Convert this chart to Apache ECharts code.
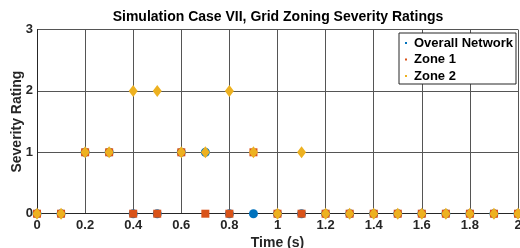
<!DOCTYPE html>
<html>
<head>
<meta charset="utf-8">
<script src="https://cdn.jsdelivr.net/npm/echarts@6/dist/echarts.min.js"></script>
<style>
html,body{margin:0;padding:0;background:#fff;}
#chart{width:520px;height:248px;}
</style>
</head>
<body>
<div id="chart"></div>
<script>
const times = [0, 0.1, 0.2, 0.3, 0.4, 0.5, 0.6, 0.7, 0.8, 0.9, 1.0, 1.1, 1.2, 1.3, 1.4, 1.5, 1.6, 1.7, 1.8, 1.9, 2.0];
const overallNetwork = [0, 0, 1, 1, 0, 0, 1, 1, 0, 0, 0, 0, 0, 0, 0, 0, 0, 0, 0, 0, 0];
const zone1 = [0, 0, 1, 1, 0, 0, 1, 0, 0, 1, 0, 0, 0, 0, 0, 0, 0, 0, 0, 0, 0];
const zone2 = [0, 0, 1, 1, 2, 2, 1, 1, 2, 1, 0, 1, 0, 0, 0, 0, 0, 0, 0, 0, 0];
const seriesNames = ['Overall Network', 'Zone 1', 'Zone 2'];
const yTicks = [0, 1, 2, 3];

const pair = (vals) => times.map((t, i) => [t, vals[i]]);
const FONT = 'Liberation Sans, Arial, sans-serif';

const chart = echarts.init(document.getElementById('chart'), null, {renderer: 'canvas'});
chart.setOption({
  animation: false,
  backgroundColor: '#fff',
  title: {
    text: 'Simulation Case VII, Grid Zoning Severity Ratings',
    left: 278,
    textAlign: 'center',
    top: 10,
    padding: 0,
    textStyle: {fontFamily: FONT, fontSize: 14, fontWeight: 'bold', color: '#000'}
  },
  legend: {
    orient: 'vertical',
    left: 399,
    top: 33,
    padding: [3, 3, 1, 6],
    itemGap: 2.5,
    itemWidth: 2,
    itemHeight: 2,
    icon: 'rect',
    backgroundColor: '#fff',
    borderColor: '#262626',
    borderWidth: 1,
    borderRadius: 0,
    data: seriesNames,
    textStyle: {fontFamily: FONT, fontSize: 13, fontWeight: 'bold', color: '#000', lineHeight: 14, padding: [0, 0, 0, 2]}
  },
  grid: {left: 37, right: 2, top: 29.5, bottom: 34.3, containLabel: false, outerBoundsMode: 'none'},
  xAxis: {
    type: 'value',
    min: 0, max: 2, interval: 0.2,
    name: 'Time (s)',
    nameLocation: 'middle',
    nameGap: 22,
    nameMoveOverlap: false,
    nameTextStyle: {fontFamily: FONT, fontSize: 14, fontWeight: 'bold', color: '#262626'},
    axisLine: {show: true, lineStyle: {color: '#262626', width: 1}},
    axisTick: {show: false},
    axisLabel: {fontFamily: FONT, fontSize: 13, fontWeight: 'bold', color: '#262626', margin: 5, showMaxLabel: true, showMinLabel: true, hideOverlap: false},
    splitLine: {show: true, lineStyle: {color: '#555', width: 1}}
  },
  yAxis: {
    type: 'value',
    min: yTicks[0], max: yTicks[yTicks.length - 1], interval: 1,
    name: 'Severity Rating',
    nameLocation: 'middle',
    nameGap: 13,
    nameMoveOverlap: false,
    nameTextStyle: {fontFamily: FONT, fontSize: 14, fontWeight: 'bold', color: '#262626'},
    axisLine: {show: true, lineStyle: {color: '#262626', width: 1}},
    axisTick: {show: false},
    axisLabel: {fontFamily: FONT, fontSize: 13, fontWeight: 'bold', color: '#262626', margin: 4},
    splitLine: {show: true, lineStyle: {color: '#555', width: 1}}
  },
  series: [
    {name: seriesNames[0], type: 'scatter', symbol: 'circle', symbolSize: 9, itemStyle: {color: '#0072BD', opacity: 1}, data: pair(overallNetwork), z: 2},
    {name: seriesNames[1], type: 'scatter', symbol: 'rect', symbolSize: 8, itemStyle: {color: '#D95319', opacity: 1}, data: pair(zone1), z: 3},
    {name: seriesNames[2], type: 'scatter', symbol: 'diamond', symbolSize: [9, 12], itemStyle: {color: '#EDB120', opacity: 1}, data: pair(zone2), z: 4}
  ]
});
</script>
</body>
</html>
